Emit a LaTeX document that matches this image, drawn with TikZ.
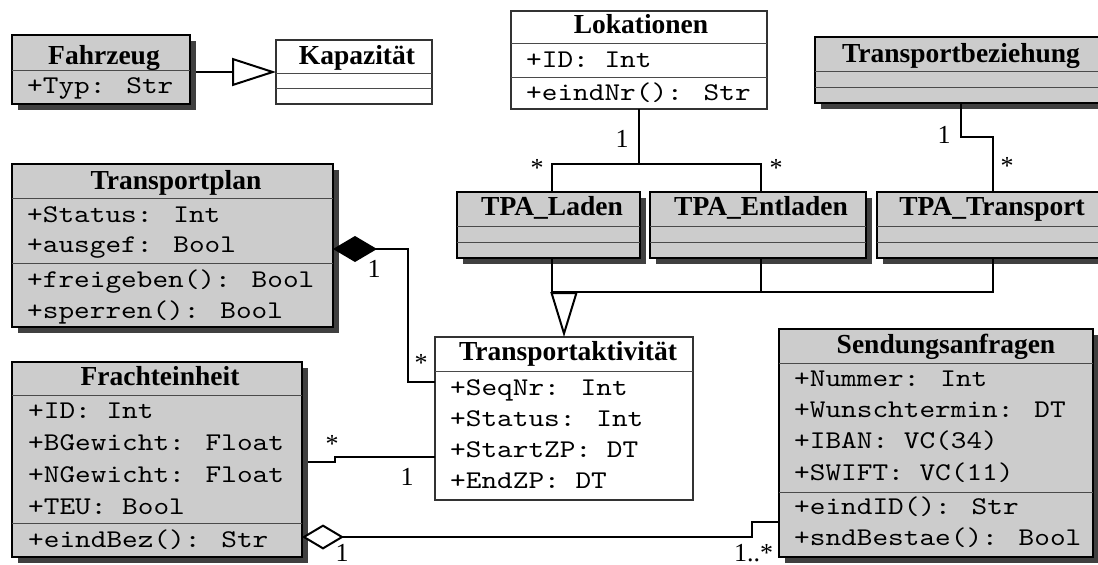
\documentclass[tikz,border=0pt]{standalone}
\usepackage{fontspec}
\setmainfont{Liberation Serif}
\newfontfamily\codefont{lmmono10-regular}[Extension=.otf, FakeStretch=1.17]
\usetikzlibrary{arrows.meta,shadows}
\definecolor{boxgray}{HTML}{CCCCCC}
\definecolor{shadowgray}{HTML}{404040}
\definecolor{rulegray}{HTML}{4A4A4A}
\tikzset{
  graybox/.style={draw=black, line width=2pt, fill=boxgray, anchor=north west,
    inner sep=0pt, outer sep=0pt,
    drop shadow={shadow xshift=6pt, shadow yshift=-6pt, opacity=1, fill=shadowgray}},
  whitebox/.style={draw=black!80, line width=1.3pt, fill=white, anchor=north west,
    inner sep=0pt, outer sep=0pt},
  sep/.style={draw=rulegray, line width=1pt},
  ctitle/.style={anchor=base, inner sep=0pt, font=\fontsize{27.5}{30}\selectfont\bfseries},
  attr/.style={anchor=base west, inner sep=0pt, font=\fontsize{25.5}{30}\selectfont\codefont},
  mult/.style={anchor=base, inner sep=0pt, font=\fontsize{26}{30}\selectfont},
  conn/.style={draw=black, line width=2pt},
  gen/.style={conn, -{Triangle[length=44pt, width=28pt, fill=white]}},
  gentree/.style={conn, -{Triangle[length=45pt, width=27pt, fill=white]}},
  compo/.style={conn, -{Diamond[length=44pt, width=26pt, fill=black]}},
  aggr/.style={conn, -{Diamond[length=42pt, width=25pt, fill=white]}},
}
\begin{document}
\begin{tikzpicture}[x=1pt, y=-1pt]
\useasboundingbox (0,0) rectangle (1098,565);
\clip (0,0) rectangle (1098,565);

% ---------- class boxes ----------
% Fahrzeug
\node[graybox, minimum width=178pt, minimum height=69pt] (fz) at (12,35) {};
\draw[sep] (fz.west |- 0,70) -- (fz.east |- 0,70);
\node[ctitle] (fz-t) at (104,64) {Fahrzeug};
\node[attr] (fz-a1) at (27,93) {+Typ: Str};

% Kapazität
\node[whitebox, minimum width=156pt, minimum height=64pt] (kp) at (276,40) {};
\draw[sep] (kp.west |- 0,73) -- (kp.east |- 0,73);
\draw[sep] (kp.west |- 0,88) -- (kp.east |- 0,88);
\node[ctitle] (kp-t) at (357,64) {Kapazität};

% Lokationen
\node[whitebox, minimum width=256pt, minimum height=98pt] (lok) at (511,11) {};
\draw[sep] (lok.west |- 0,43) -- (lok.east |- 0,43);
\draw[sep] (lok.west |- 0,77) -- (lok.east |- 0,77);
\node[ctitle] (lok-t) at (641,33) {Lokationen};
\node[attr] (lok-a1) at (526,67) {+ID: Int};
\node[attr] (lok-m1) at (526,100) {+eindNr(): Str};

% Transportbeziehung
\node[graybox, minimum width=292pt, minimum height=66pt] (tb) at (815,37) {};
\draw[sep] (tb.west |- 0,71) -- (tb.east |- 0,71);
\draw[sep] (tb.west |- 0,87) -- (tb.east |- 0,87);
\node[ctitle] (tb-t) at (961,62) {Transportbeziehung};

% TPA_Laden
\node[graybox, minimum width=183pt, minimum height=66pt] (tpal) at (457,192) {};
\draw[sep] (tpal.west |- 0,226) -- (tpal.east |- 0,226);
\draw[sep] (tpal.west |- 0,242) -- (tpal.east |- 0,242);
\node[ctitle] (tpal-t) at (552,215) {TPA\_Laden};

% TPA_Entladen
\node[graybox, minimum width=216pt, minimum height=66pt] (tpae) at (650,192) {};
\draw[sep] (tpae.west |- 0,226) -- (tpae.east |- 0,226);
\draw[sep] (tpae.west |- 0,242) -- (tpae.east |- 0,242);
\node[ctitle] (tpae-t) at (761,215) {TPA\_Entladen};

% TPA_Transport
\node[graybox, minimum width=231pt, minimum height=66pt] (tpat) at (877,192) {};
\draw[sep] (tpat.west |- 0,226) -- (tpat.east |- 0,226);
\draw[sep] (tpat.west |- 0,242) -- (tpat.east |- 0,242);
\node[ctitle] (tpat-t) at (992,215) {TPA\_Transport};

% Transportplan
\node[graybox, minimum width=321pt, minimum height=163pt] (tp) at (12,164) {};
\draw[sep] (tp.west |- 0,198) -- (tp.east |- 0,198);
\draw[sep] (tp.west |- 0,263) -- (tp.east |- 0,263);
\node[ctitle] (tp-t) at (176,189) {Transportplan};
\node[attr] (tp-a1) at (27,222) {+Status: Int};
\node[attr] (tp-a2) at (27,252) {+ausgef: Bool};
\node[attr] (tp-m1) at (27,287) {+freigeben(): Bool};
\node[attr] (tp-m2) at (27,318) {+sperren(): Bool};

% Transportaktivität
\node[whitebox, minimum width=258pt, minimum height=163pt] (ta) at (435,337) {};
\draw[sep] (ta.west |- 0,371) -- (ta.east |- 0,371);
\node[ctitle] (ta-t) at (568,360) {Transportaktivität};
\node[attr] (ta-a1) at (450,395) {+SeqNr: Int};
\node[attr] (ta-a2) at (450,426) {+Status: Int};
\node[attr] (ta-a3) at (450,457) {+StartZP: DT};
\node[attr] (ta-a4) at (450,488) {+EndZP: DT};

% Frachteinheit
\node[graybox, minimum width=290pt, minimum height=195pt] (fe) at (12,362) {};
\draw[sep] (fe.west |- 0,395) -- (fe.east |- 0,395);
\draw[sep] (fe.west |- 0,523) -- (fe.east |- 0,523);
\node[ctitle] (fe-t) at (160,385) {Frachteinheit};
\node[attr] (fe-a1) at (28,418) {+ID: Int};
\node[attr] (fe-a2) at (28,450) {+BGewicht: Float};
\node[attr] (fe-a3) at (28,482) {+NGewicht: Float};
\node[attr] (fe-a4) at (28,514) {+TEU: Bool};
\node[attr] (fe-m1) at (28,547) {+eindBez(): Str};

% Sendungsanfragen
\node[graybox, minimum width=314pt, minimum height=228pt] (sa) at (779,329) {};
\draw[sep] (sa.west |- 0,363) -- (sa.east |- 0,363);
\draw[sep] (sa.west |- 0,492) -- (sa.east |- 0,492);
\node[ctitle] (sa-t) at (946,353) {Sendungsanfragen};
\node[attr] (sa-a1) at (794,386) {+Nummer: Int};
\node[attr] (sa-a2) at (794,417) {+Wunschtermin: DT};
\node[attr] (sa-a3) at (794,448) {+IBAN: VC(34)};
\node[attr] (sa-a4) at (794,480) {+SWIFT: VC(11)};
\node[attr] (sa-m1) at (794,514) {+eindID(): Str};
\node[attr] (sa-m2) at (794,545) {+sndBestae(): Bool};

% ---------- relations ----------
% Fahrzeug specialises Kapazität
\coordinate (fzr) at ([xshift=6pt]fz.east);
\draw[gen] (fzr |- kp.west) -- (kp.west);

% Lokationen to TPA_Laden / TPA_Entladen
\coordinate (lokj) at (lok.south |- 0,164);
\coordinate (tpalt) at ([xshift=3pt]tpal.north);
\coordinate (tpaet) at ([xshift=3pt]tpae.north);
\draw[conn] (lok.south) -- (lokj);
\draw[conn] (tpalt) |- (lokj) -| (tpaet);
\node[mult] (m-lok1) at (622,147) {1};
\node[mult] (m-lok2) at (537,176) {*};
\node[mult] (m-lok3) at (776,176) {*};

% Transportbeziehung to TPA_Transport
\draw[conn] (tb.south) -- (tb.south |- 0,137) -| (tpat.north);
\node[mult] (m-tb1) at (944,143) {1};
\node[mult] (m-tb2) at (1007,174) {*};

% TPA_* generalise to Transportaktivität
\coordinate (gj) at (ta.north |- 0,292);
\coordinate (tpalb) at ([xshift=3pt]tpal.south);
\coordinate (tpaeb) at ([xshift=3pt]tpae.south);
\draw[conn] (tpalb) |- (gj) -| (tpat.south);
\draw[conn] (tpaeb) -- (tpaeb |- gj);
\draw[gentree] (gj) -- (ta.north);

% Transportplan composed of Transportaktivität
\coordinate (tpc) at ([yshift=-3.5pt]tp.east);
\coordinate (tac) at ([yshift=36.5pt]ta.west);
\coordinate (cbend) at (408,300);
\draw[compo] (tac) -| (cbend |- tpc) -- (tpc);
\node[mult] (m-tp1) at (374,277) {1};
\node[mult] (m-tp2) at (421,371) {*};

% Frachteinheit to Transportaktivität
\coordinate (fec) at ([xshift=6pt, yshift=-2.5pt]fe.east);
\coordinate (tafe) at ([yshift=-38.5pt]ta.west);
\draw[conn] (fec) -- ++(27,0) |- (tafe);
\node[mult] (m-fe1) at (332,452) {*};
\node[mult] (m-fe2) at (407,485) {1};

% Frachteinheit aggregates Sendungsanfragen
\coordinate (fea) at ([yshift=-77.5pt]fe.east);
\coordinate (saa) at ([yshift=-79pt]sa.west);
\draw[aggr] (saa) -- ++(-27,0) |- (fea);
\node[mult] (m-ag1) at (342,561) {1};
\node[mult, anchor=base west] (m-ag2) at (734,561) {1..*};
\end{tikzpicture}
\end{document}
